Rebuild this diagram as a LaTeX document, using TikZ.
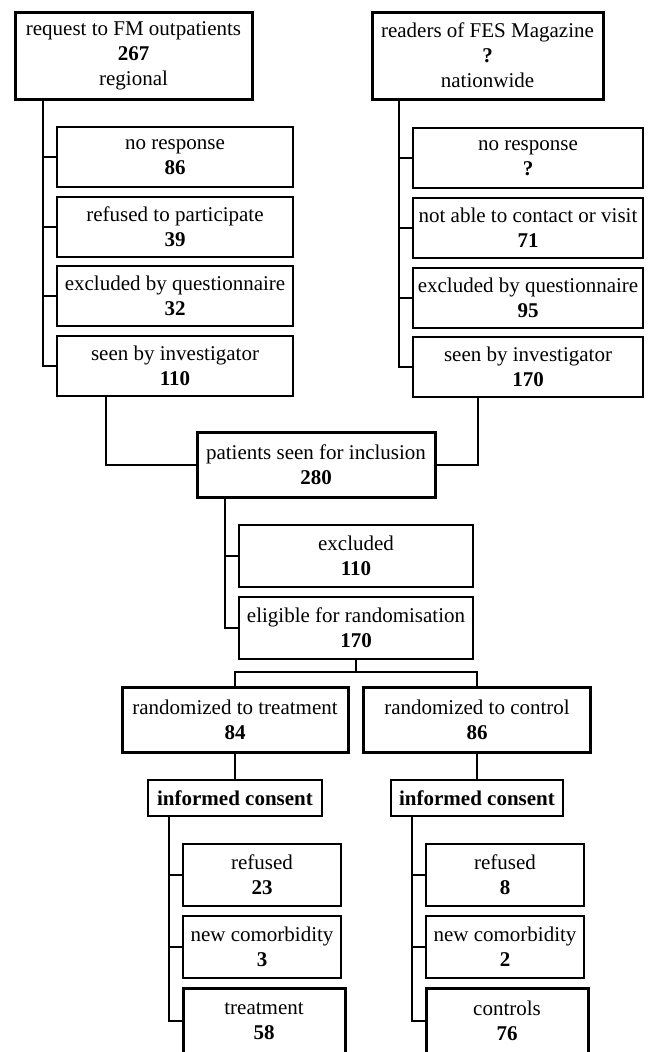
\documentclass[tikz,border=0pt]{standalone}
\usepackage{fontspec}
\setmainfont{Liberation Serif}
\begin{document}
\begin{tikzpicture}[x=1pt,y=-1pt,
  box/.style={draw, line width=1.6pt, align=center, inner sep=0pt,
    font=\fontsize{21}{25}\selectfont, minimum height=60pt},
  tbox/.style={box, line width=3pt},
  conn/.style={line width=1.6pt}]
\useasboundingbox (0,0) rectangle (650,1052);
% top sources
\node[tbox, minimum width=237pt, minimum height=87pt] (A) at (133.5,55.5) {request to FM outpatients\\\textbf{267}\\regional};
\node[tbox, minimum width=231pt, minimum height=87pt] (B) at (487.5,55.5) {readers of FES Magazine\\\textbf{?}\\nationwide};
% left branch
\node[box, minimum width=236pt] (L1) at (175,157) {no response\\\textbf{86}};
\node[box, minimum width=236pt] (L2) at (175,227) {refused to participate\\\textbf{39}};
\node[box, minimum width=236pt] (L3) at (175,296) {excluded by questionnaire\\\textbf{32}};
\node[box, minimum width=236pt] (L4) at (175,366) {seen by investigator\\\textbf{110}};
% right branch
\node[box, minimum width=230pt] (R1) at (528,158) {no response\\\textbf{?}};
\node[box, minimum width=230pt] (R2) at (528,228) {not able to contact or visit\\\textbf{71}};
\node[box, minimum width=230pt] (R3) at (528,298) {excluded by questionnaire\\\textbf{95}};
\node[box, minimum width=230pt] (R4) at (528,367) {seen by investigator\\\textbf{170}};
% pooled
\node[tbox, minimum width=238pt, minimum height=65pt] (P) at (316,465) {patients seen for inclusion\\\textbf{280}};
\node[box, minimum width=234pt, minimum height=62pt] (E1) at (356,556) {excluded\\\textbf{110}};
\node[box, minimum width=234pt, minimum height=62pt] (E2) at (356,628) {eligible for randomisation\\\textbf{170}};
% arms
\node[tbox, minimum width=226pt, minimum height=65pt] (T1) at (235,720) {randomized to treatment\\\textbf{84}};
\node[tbox, minimum width=227pt, minimum height=65pt] (C1) at (477,720) {randomized to control\\\textbf{86}};
\node[box, minimum width=174pt, minimum height=36pt] (IC1) at (235,798) {\textbf{informed consent}};
\node[box, minimum width=172pt, minimum height=36pt] (IC2) at (477,798) {\textbf{informed consent}};
\node[box, minimum width=158pt, minimum height=62pt] (TR1) at (262,875) {refused\\\textbf{23}};
\node[box, minimum width=158pt, minimum height=62pt] (TR2) at (262,947) {new comorbidity\\\textbf{3}};
\node[tbox, minimum width=162pt, minimum height=66pt] (TR3) at (264,1021) {treatment\\\textbf{58}};
\node[box, minimum width=158pt, minimum height=62pt] (CR1) at (505,875) {refused\\\textbf{8}};
\node[box, minimum width=158pt, minimum height=62pt] (CR2) at (505,947) {new comorbidity\\\textbf{2}};
\node[tbox, minimum width=162pt, minimum height=66pt] (CR3) at (507,1021) {controls\\\textbf{76}};
% spine coordinates
\coordinate (sl) at (43,0);
\coordinate (sr) at (399,0);
\coordinate (lx) at (106,0);
\coordinate (rx) at (478,0);
\coordinate (sp) at (225,0);
\coordinate (sy) at (0,672);
\coordinate (stl) at (169,0);
\coordinate (scr) at (412,0);
% left branch connectors
\draw[conn] (A.south -| sl) |- (L4.west);
\foreach \n in {L1,L2,L3} \draw[conn] (\n.west -| sl) -- (\n.west);
% right branch connectors
\draw[conn] (B.south -| sr) |- (R4.west);
\foreach \n in {R1,R2,R3} \draw[conn] (\n.west -| sr) -- (\n.west);
% to pooled
\draw[conn] (L4.south -| lx) |- (P.west);
\draw[conn] (R4.south -| rx) |- (P.east);
% pooled branch
\draw[conn] (P.south -| sp) |- (E2.west);
\draw[conn] (E1.west -| sp) -- (E1.west);
% split
\draw[conn] (E2.south) -- (E2.south |- sy);
\draw[conn] (T1.north) -- (T1.north |- sy) -- (C1.north |- sy) -- (C1.north);
\draw[conn] (T1.south) -- (IC1.north);
\draw[conn] (C1.south) -- (IC2.north);
% treatment arm
\draw[conn] (IC1.south -| stl) |- (TR3.west);
\foreach \n in {TR1,TR2} \draw[conn] (\n.west -| stl) -- (\n.west);
% control arm
\draw[conn] (IC2.south -| scr) |- (CR3.west);
\foreach \n in {CR1,CR2} \draw[conn] (\n.west -| scr) -- (\n.west);
\end{tikzpicture}
\end{document}
